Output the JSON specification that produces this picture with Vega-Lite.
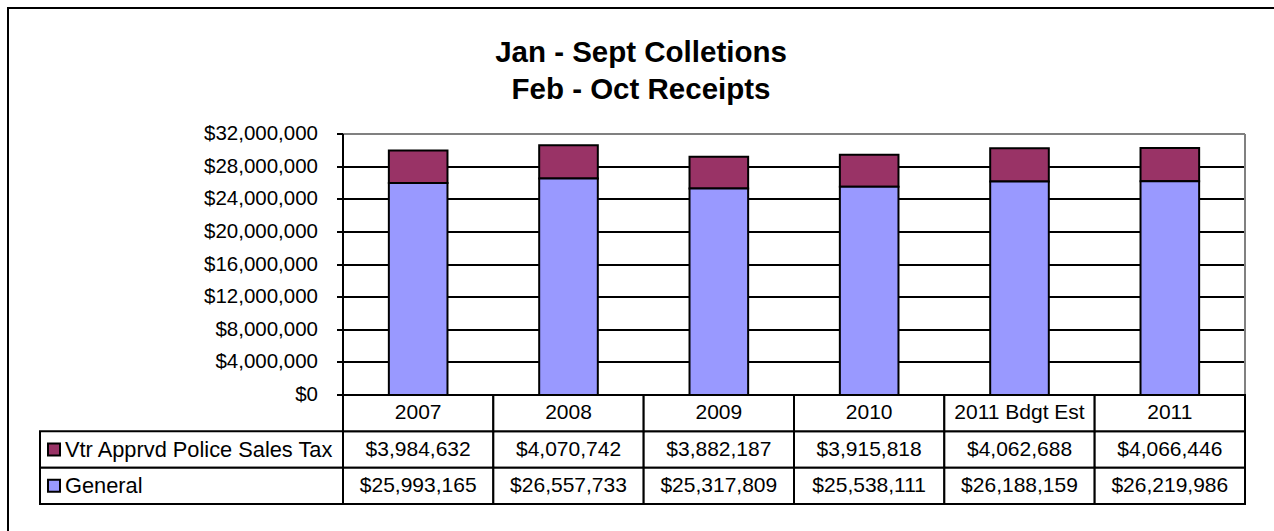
{
  "$schema": "https://vega.github.io/schema/vega-lite/v6.json",
  "width": 1266,
  "height": 523,
  "autosize": {"type": "none"},
  "padding": {"left": 8, "top": 8, "right": 0, "bottom": 0},
  "background": "white",
  "config": {
    "font": "Liberation Sans",
    "view": {"stroke": "black", "strokeWidth": 2, "strokeDash": [1266, 1789, 523]},
    "axis": {"translate": 0}
  },
  "title": {
    "text": ["Jan - Sept Colletions", "Feb - Oct Receipts"],
    "fontSize": 29.5,
    "fontWeight": "bold",
    "color": "black",
    "lineHeight": 37,
    "anchor": "middle",
    "frame": "group",
    "baseline": "alphabetic",
    "offset": -120
  },
  "datasets": {
    "receipts": [
      {"year": "2007", "series": "Vtr Apprvd Police Sales Tax", "amount": 3984632},
      {"year": "2008", "series": "Vtr Apprvd Police Sales Tax", "amount": 4070742},
      {"year": "2009", "series": "Vtr Apprvd Police Sales Tax", "amount": 3882187},
      {"year": "2010", "series": "Vtr Apprvd Police Sales Tax", "amount": 3915818},
      {"year": "2011 Bdgt Est", "series": "Vtr Apprvd Police Sales Tax", "amount": 4062688},
      {"year": "2011", "series": "Vtr Apprvd Police Sales Tax", "amount": 4066446},
      {"year": "2007", "series": "General", "amount": 25993165},
      {"year": "2008", "series": "General", "amount": 26557733},
      {"year": "2009", "series": "General", "amount": 25317809},
      {"year": "2010", "series": "General", "amount": 25538111},
      {"year": "2011 Bdgt Est", "series": "General", "amount": 26188159},
      {"year": "2011", "series": "General", "amount": 26219986}
    ],
    "series": [
      {"series": "Vtr Apprvd Police Sales Tax"},
      {"series": "General"}
    ]
  },
  "layer": [
    {
      "data": {"name": "receipts"},
      "layer": [
        {
          "mark": {"type": "bar", "width": {"band": 0.39}, "stroke": "black", "strokeWidth": 2},
          "encoding": {
            "x": {
              "field": "year", "type": "nominal",
              "scale": {"domain": ["2007", "2008", "2009", "2010", "2011 Bdgt Est", "2011"], "range": [335, 1237], "paddingInner": 0, "paddingOuter": 0},
              "axis": null
            },
            "y": {
              "field": "amount", "type": "quantitative", "stack": "zero",
              "scale": {"domain": [0, 32000000], "range": [387, 126], "nice": false},
              "axis": {
                "values": [0, 4000000, 8000000, 12000000, 16000000, 20000000, 24000000, 28000000, 32000000],
                "format": "$,d",
                "offset": -335,
                "title": null,
                "domainColor": "black", "domainWidth": 2,
                "tickColor": "black", "tickWidth": 2, "tickSize": 6,
                "labelFontSize": 20.5, "labelColor": "black", "labelPadding": 19,
                "grid": true,
                "gridColor": {"condition": {"test": "datum.value == 32000000", "value": "#808080"}, "value": "black"},
                "gridWidth": 2
              }
            },
            "color": {
              "field": "series", "type": "nominal",
              "scale": {"domain": ["Vtr Apprvd Police Sales Tax", "General"], "range": ["#993366", "#9999FF"]},
              "legend": null
            },
            "order": {"field": "series", "sort": "ascending"}
          }
        },
        {
          "data": {"values": [{}]},
          "mark": {"type": "rule", "color": "#808080", "strokeWidth": 2},
          "encoding": {
            "x": {"datum": "2011", "type": "nominal", "bandPosition": 1},
            "y": {"datum": 0, "type": "quantitative"},
            "y2": {"datum": 32000000}
          }
        }
      ]
    },
    {
      "data": {"name": "receipts"},
      "encoding": {
        "x": {
          "field": "year", "type": "nominal",
          "scale": {"domain": ["2007", "2008", "2009", "2010", "2011 Bdgt Est", "2011"], "range": [335, 1237], "paddingInner": 0, "paddingOuter": 0},
          "axis": null
        },
        "y": {
          "field": "series", "type": "nominal",
          "scale": {"domain": ["hdr", "Vtr Apprvd Police Sales Tax", "General"], "range": [387, 496], "paddingInner": 0, "paddingOuter": 0},
          "axis": null
        }
      },
      "layer": [
        {
          "mark": {"type": "rect", "fill": "white", "stroke": "black", "strokeWidth": 2}
        },
        {
          "mark": {"type": "text", "fontSize": 21, "color": "black", "baseline": "middle"},
          "encoding": {"text": {"field": "amount", "type": "quantitative", "format": "$,d"}}
        },
        {
          "transform": [{"filter": "datum.series === 'General'"}],
          "mark": {"type": "rect", "fill": "white", "stroke": "black", "strokeWidth": 2},
          "encoding": {"y": {"datum": "hdr", "type": "nominal"}}
        },
        {
          "transform": [{"filter": "datum.series === 'General'"}],
          "mark": {"type": "text", "fontSize": 21, "color": "black", "baseline": "middle"},
          "encoding": {"y": {"datum": "hdr", "type": "nominal"}, "text": {"field": "year", "type": "nominal"}}
        }
      ]
    },
    {
      "data": {"name": "series"},
      "encoding": {
        "x": {
          "datum": "legend", "type": "nominal",
          "scale": {"domain": ["legend"], "range": [32, 335], "paddingInner": 0, "paddingOuter": 0},
          "axis": null
        },
        "y": {
          "field": "series", "type": "nominal",
          "scale": {"domain": ["hdr", "Vtr Apprvd Police Sales Tax", "General"], "range": [387, 496], "paddingInner": 0, "paddingOuter": 0},
          "axis": null
        }
      },
      "layer": [
        {
          "mark": {"type": "rect", "fill": "white", "stroke": "black", "strokeWidth": 2}
        },
        {
          "mark": {"type": "point", "shape": "square", "filled": true, "size": 144, "stroke": "black", "strokeWidth": 2, "opacity": 1, "xOffset": 14},
          "encoding": {
            "x": {"datum": "legend", "type": "nominal", "bandPosition": 0},
            "color": {"field": "series", "type": "nominal", "legend": null}
          }
        },
        {
          "mark": {"type": "text", "align": "left", "baseline": "middle", "dx": 25, "fontSize": 21.8, "color": "black"},
          "encoding": {
            "x": {"datum": "legend", "type": "nominal", "bandPosition": 0},
            "text": {"field": "series", "type": "nominal"}
          }
        }
      ]
    }
  ],
  "resolve": {"scale": {"x": "independent", "y": "independent"}}
}
